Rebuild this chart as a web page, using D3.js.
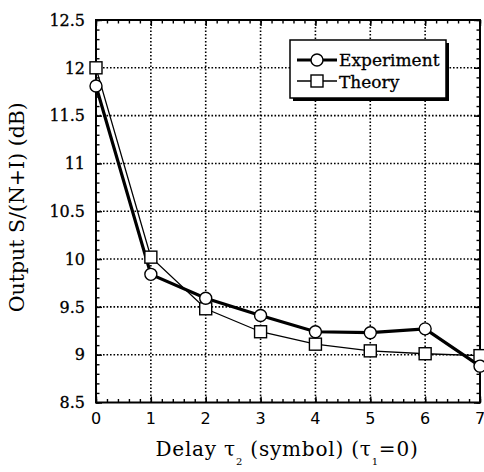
<!DOCTYPE html>
<html>
<head>
<meta charset="utf-8">
<script src="https://cdn.jsdelivr.net/npm/d3@7"></script>
<style>
  body { margin: 0; background: #fff; }
</style>
</head>
<body>
<div id="chart"></div>
<script>
var margin = {top: 20, right: 4, bottom: 69.5, left: 96},
    width = 484 - margin.left - margin.right,
    height = 472 - margin.top - margin.bottom;

var serif = "'DejaVu Serif', serif",
    sans = "'DejaVu Sans', sans-serif";

// Data input
var delays = [0, 1, 2, 3, 4, 5, 6, 7];
var experiment = [11.81, 9.84, 9.59, 9.41, 9.24, 9.23, 9.27, 8.88];
var theory = [12.0, 10.02, 9.48, 9.24, 9.11, 9.04, 9.01, 8.99];
var yTicks = [8.5, 9, 9.5, 10, 10.5, 11, 11.5, 12, 12.5];
var xTicks = [0, 1, 2, 3, 4, 5, 6, 7];

var x = d3.scaleLinear().domain([0, 7]).range([0, width]),
    y = d3.scaleLinear().domain([8.5, 12.5]).range([height, 0]);

var svg = d3.select("#chart").append("svg")
    .attr("width", 484)
    .attr("height", 472)
    .attr("font-family", serif)
  .append("g")
    .attr("transform", "translate(" + margin.left + "," + margin.top + ")");

// dotted grid
svg.append("g").selectAll("line")
    .data(xTicks.slice(1, -1))
  .enter().append("line")
    .attr("x1", function(d) { return x(d); })
    .attr("x2", function(d) { return x(d); })
    .attr("y1", 0).attr("y2", height)
    .attr("stroke", "#000").attr("stroke-width", 1.6)
    .attr("stroke-dasharray", "1.6,1.9");

svg.append("g").selectAll("line")
    .data(yTicks.slice(1, -1))
  .enter().append("line")
    .attr("y1", function(d) { return y(d); })
    .attr("y2", function(d) { return y(d); })
    .attr("x1", 0).attr("x2", width)
    .attr("stroke", "#000").attr("stroke-width", 1.6)
    .attr("stroke-dasharray", "1.6,1.9");

// inward ticks on all four sides
var xMinor = d3.range(0, 7.001, 0.2),
    yMinor = d3.range(8.5, 12.501, 0.1);

function ticks(axis, scale, vals, len, tr) {
  svg.append("g")
      .attr("transform", tr)
      .call(axis(scale).tickValues(vals).tickSize(len).tickFormat(""))
      .call(function(g) {
        g.select(".domain").remove();
        g.selectAll("line").attr("stroke", "#000").attr("stroke-width", 1.4);
      });
}
ticks(d3.axisTop, x, xMinor, 3.5, "translate(0," + height + ")");
ticks(d3.axisTop, x, xTicks, 6, "translate(0," + height + ")");
ticks(d3.axisBottom, x, xMinor, 3.5, "translate(0,0)");
ticks(d3.axisBottom, x, xTicks, 6, "translate(0,0)");
ticks(d3.axisRight, y, yMinor, 3.5, "translate(0,0)");
ticks(d3.axisRight, y, yTicks, 6, "translate(0,0)");
ticks(d3.axisLeft, y, yMinor, 3.5, "translate(" + width + ",0)");
ticks(d3.axisLeft, y, yTicks, 6, "translate(" + width + ",0)");

// frame
svg.append("rect")
    .attr("width", width).attr("height", height)
    .attr("fill", "none").attr("stroke", "#000").attr("stroke-width", 2);

// tick labels
svg.append("g").selectAll("text")
    .data(yTicks)
  .enter().append("text")
    .attr("x", -11)
    .attr("y", function(d) { return y(d); })
    .attr("dy", "0.36em")
    .attr("text-anchor", "end")
    .attr("font-family", serif)
    .attr("font-size", 16)
    .attr("stroke", "#000").attr("stroke-width", 0.3)
    .text(function(d) { return d; });

svg.append("g").selectAll("text")
    .data(xTicks)
  .enter().append("text")
    .attr("x", function(d) { return x(d); })
    .attr("y", height + 21)
    .attr("text-anchor", "middle")
    .attr("font-family", sans)
    .attr("font-size", 16)
    .text(function(d) { return d; });

// axis titles
svg.append("text")
    .attr("transform", "translate(-72," + (height / 2 - 4) + ") rotate(-90)")
    .attr("text-anchor", "middle")
    .attr("font-family", serif)
    .attr("font-size", 20.5)
    .text("Output S/(N+I) (dB)");

var xt = svg.append("text")
    .attr("x", width / 2 - 1)
    .attr("y", height + 53)
    .attr("text-anchor", "middle")
    .attr("font-family", serif)
    .attr("font-size", 20)
    .attr("letter-spacing", 0.8);
xt.append("tspan").text("Delay \u03c4");
xt.append("tspan").attr("dy", 9).attr("font-size", 10).text("2");
xt.append("tspan").attr("dy", -9).text(" (symbol)  (\u03c4");
xt.append("tspan").attr("dy", 9).attr("font-size", 10).text("1");
xt.append("tspan").attr("dy", -9).text("=0)");

// series
var line = d3.line()
    .x(function(d, i) { return x(delays[i]); })
    .y(function(d) { return y(d); });

svg.append("path").datum(theory)
    .attr("d", line).attr("fill", "none")
    .attr("stroke", "#000").attr("stroke-width", 1.3);

svg.append("path").datum(experiment)
    .attr("d", line).attr("fill", "none")
    .attr("stroke", "#000").attr("stroke-width", 3.2);

svg.append("g").selectAll("rect")
    .data(theory)
  .enter().append("rect")
    .attr("x", function(d, i) { return x(delays[i]) - 6; })
    .attr("y", function(d) { return y(d) - 6; })
    .attr("width", 12).attr("height", 12)
    .attr("fill", "#fff").attr("stroke", "#000").attr("stroke-width", 1.4);

svg.append("g").selectAll("circle")
    .data(experiment)
  .enter().append("circle")
    .attr("cx", function(d, i) { return x(delays[i]); })
    .attr("cy", function(d) { return y(d); })
    .attr("r", 6)
    .attr("fill", "#fff").attr("stroke", "#000").attr("stroke-width", 1.4);

// legend with drop shadow
var legend = svg.append("g").attr("transform", "translate(194,20)");
legend.append("rect")
    .attr("x", 3).attr("y", 3).attr("width", 156).attr("height", 58)
    .attr("fill", "#000");
legend.append("rect")
    .attr("width", 156).attr("height", 58)
    .attr("fill", "#fff").attr("stroke", "#000").attr("stroke-width", 1.5);

legend.append("line")
    .attr("x1", 7).attr("x2", 47).attr("y1", 20).attr("y2", 20)
    .attr("stroke", "#000").attr("stroke-width", 3.2);
legend.append("circle")
    .attr("cx", 27).attr("cy", 20).attr("r", 6)
    .attr("fill", "#fff").attr("stroke", "#000").attr("stroke-width", 1.4);
legend.append("line")
    .attr("x1", 7).attr("x2", 47).attr("y1", 41).attr("y2", 41)
    .attr("stroke", "#000").attr("stroke-width", 1.3);
legend.append("rect")
    .attr("x", 21).attr("y", 35).attr("width", 12).attr("height", 12)
    .attr("fill", "#fff").attr("stroke", "#000").attr("stroke-width", 1.4);

legend.append("text")
    .attr("x", 49).attr("y", 26)
    .attr("font-family", serif)
    .attr("font-size", 17)
    .attr("stroke", "#000").attr("stroke-width", 0.3)
    .text("Experiment");
legend.append("text")
    .attr("x", 49).attr("y", 48)
    .attr("font-family", serif)
    .attr("font-size", 17)
    .attr("stroke", "#000").attr("stroke-width", 0.3)
    .text("Theory");
</script>
</body>
</html>
